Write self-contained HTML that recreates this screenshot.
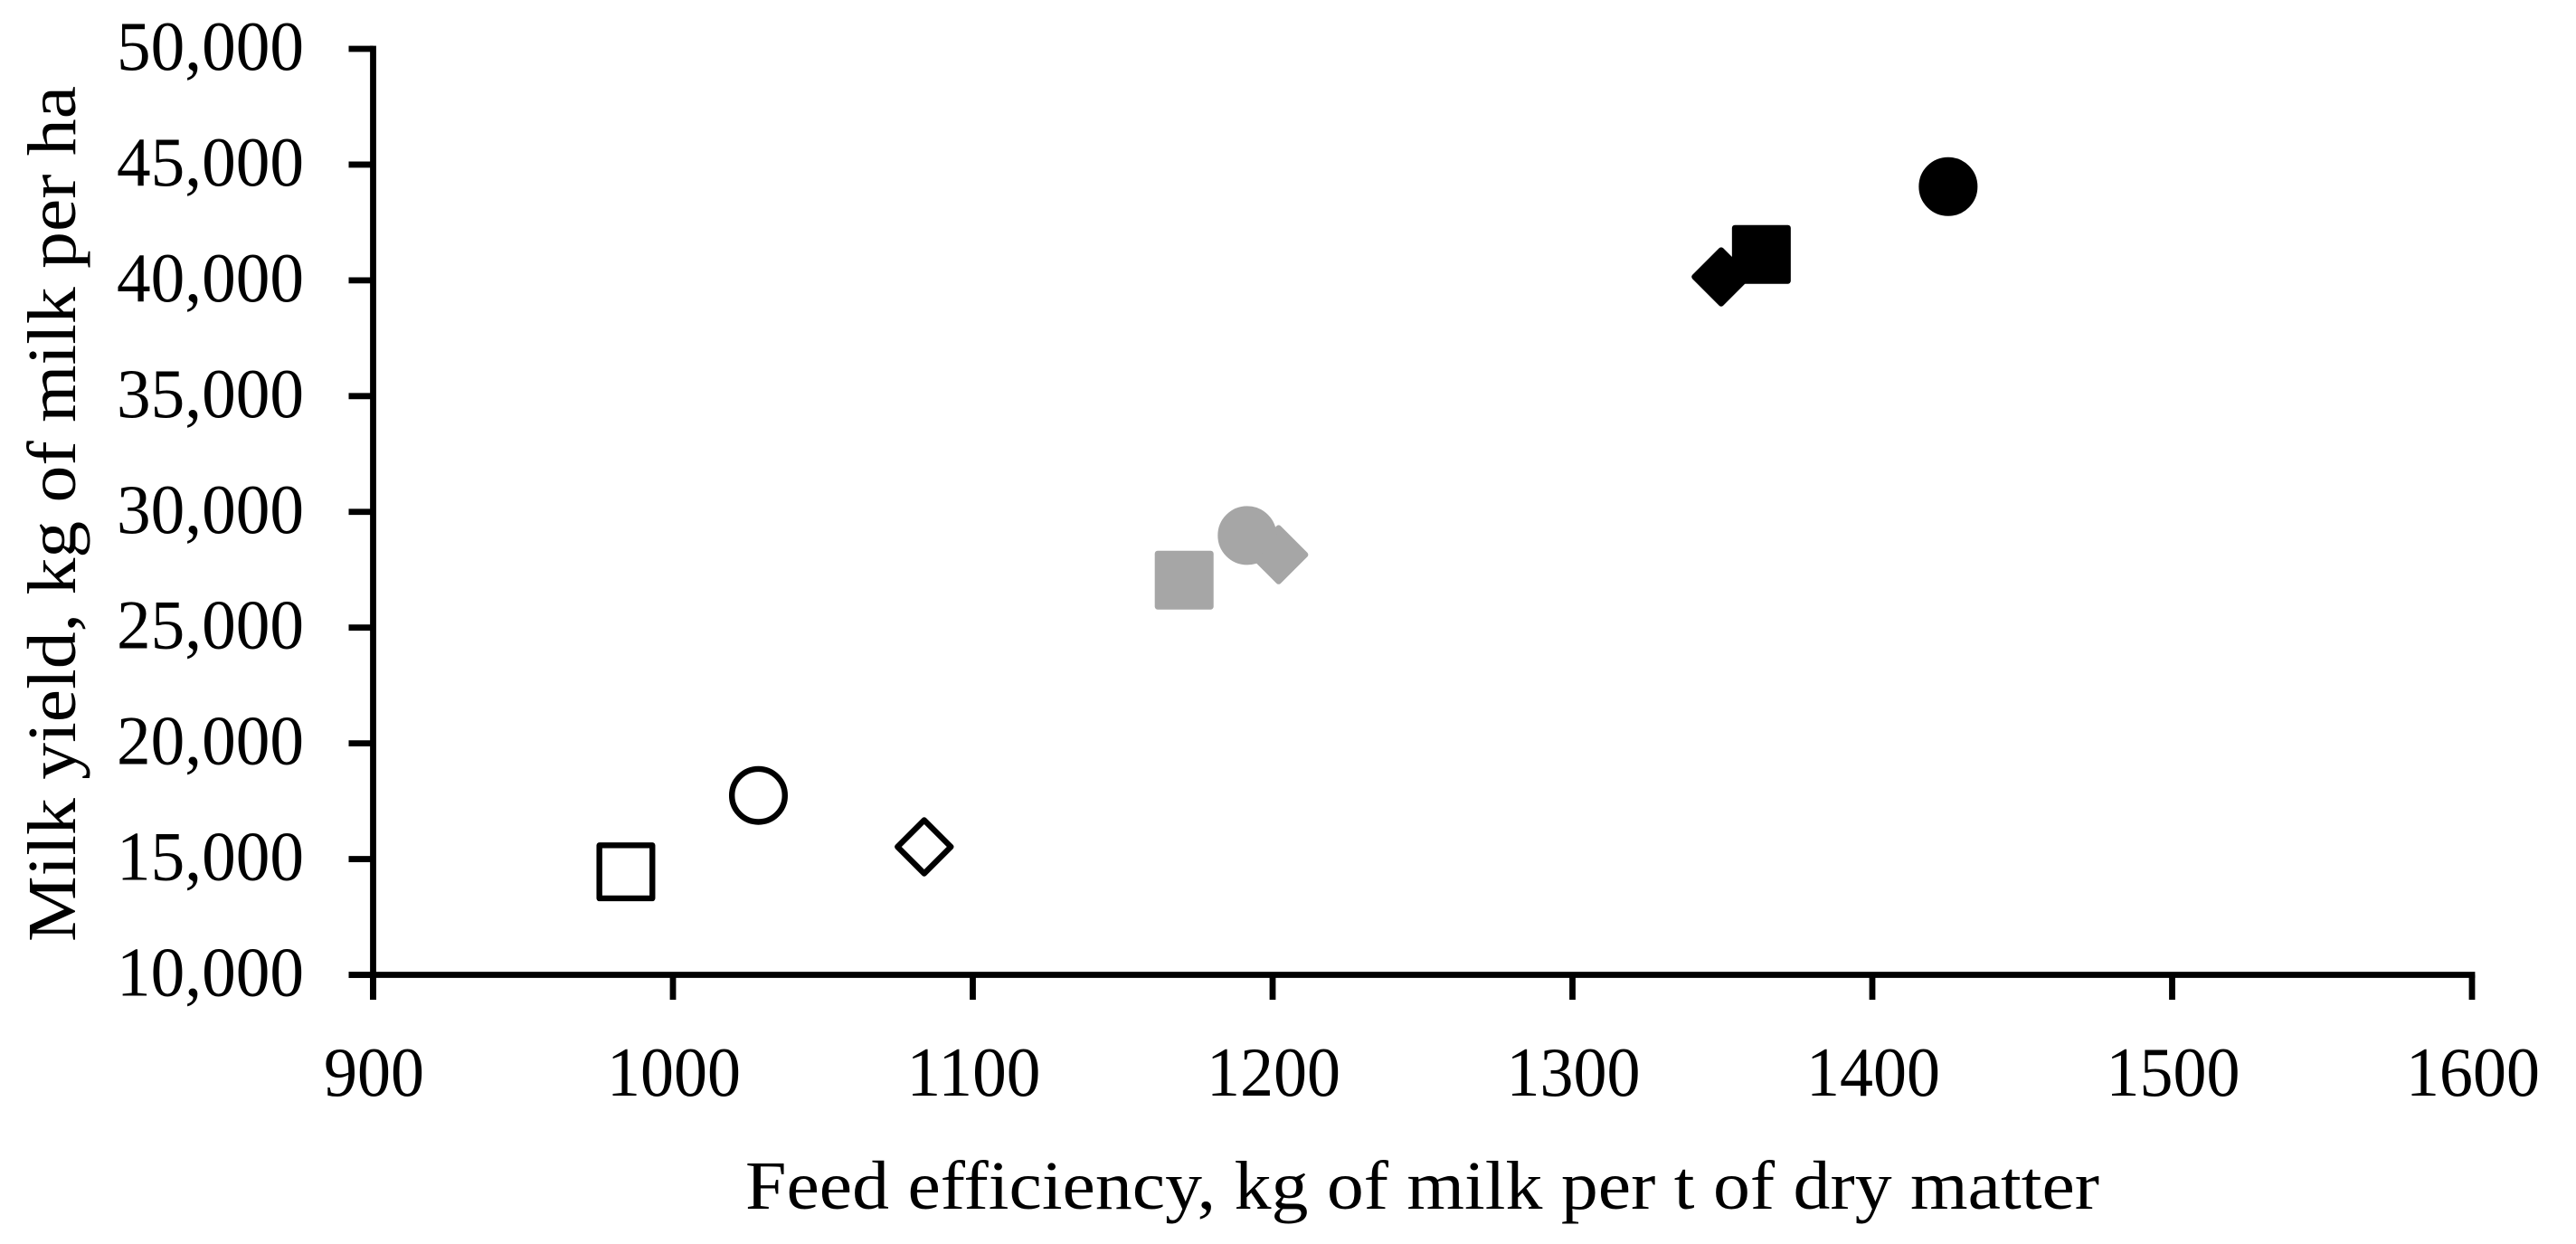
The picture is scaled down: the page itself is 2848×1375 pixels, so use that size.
<!DOCTYPE html>
<html lang="en">
<head>
<meta charset="utf-8">
<title>Milk yield vs feed efficiency</title>
<style>
html,body{margin:0;padding:0;background:#fff;}
svg{display:block;}
text{font-family:"Liberation Serif",serif;fill:#000;}
</style>
</head>
<body>
<svg id="chart" xmlns="http://www.w3.org/2000/svg" width="2848" height="1375" viewBox="0 0 2848 1375">
  <rect x="0" y="0" width="2848" height="1375" fill="#fff"/>
  <g id="axes"></g>
  <g id="marks"></g>
  <text x="824" y="1336" font-size="76" textLength="1497" lengthAdjust="spacingAndGlyphs">Feed efficiency, kg of milk per t of dry matter</text>
  <text transform="translate(83 1041) rotate(-90)" font-size="76" textLength="946" lengthAdjust="spacingAndGlyphs">Milk yield, kg of milk per ha</text>
</svg>
<script>
const xTickValues = [900, 1000, 1100, 1200, 1300, 1400, 1500, 1600];
const yTickValues = [10000, 15000, 20000, 25000, 30000, 35000, 40000, 45000, 50000];
const groupNames = ['low', 'medium', 'high'];
const squareFeedEfficiency = [984.3, 1170.5, 1363];
const squareMilkYield = [14450, 27050, 41120];
const circleFeedEfficiency = [1028.5, 1191.5, 1425.3];
const circleMilkYield = [17750, 28980, 44050];
const diamondFeedEfficiency = [1083.8, 1202, 1349.6];
const diamondMilkYield = [15530, 28150, 40150];

const NS = 'http://www.w3.org/2000/svg';
const plot = { left: 412.5, right: 2733, top: 54, bottom: 1077.5 };
const xMin = xTickValues[0];
const xMax = xTickValues[xTickValues.length - 1];
const yMin = yTickValues[0];
const yMax = yTickValues[yTickValues.length - 1];
const xScale = v => plot.left + (v - xMin) / (xMax - xMin) * (plot.right - plot.left);
const yScale = v => plot.bottom - (v - yMin) / (yMax - yMin) * (plot.bottom - plot.top);
const groupFill = { low: '#ffffff', medium: '#a6a6a6', high: '#000000' };
const groupStroke = { low: '#000000', medium: '#a6a6a6', high: '#000000' };
const axes = document.getElementById('axes');
const marks = document.getElementById('marks');

function drawLine(parent, x1, y1, x2, y2) {
  const l = document.createElementNS(NS, 'line');
  l.setAttribute('x1', x1);
  l.setAttribute('y1', y1);
  l.setAttribute('x2', x2);
  l.setAttribute('y2', y2);
  l.setAttribute('stroke', '#000');
  l.setAttribute('stroke-width', 6.8);
  parent.appendChild(l);
  return l;
}
function drawLabel(parent, str, x, y, anchor, width) {
  const t = document.createElementNS(NS, 'text');
  t.setAttribute('x', x);
  t.setAttribute('y', y);
  t.setAttribute('text-anchor', anchor);
  t.setAttribute('font-size', 77);
  t.setAttribute('textLength', width);
  t.setAttribute('lengthAdjust', 'spacingAndGlyphs');
  t.textContent = str;
  parent.appendChild(t);
  return t;
}

const yAxisLine = drawLine(axes, plot.left, plot.top - 3.4, plot.left, plot.bottom + 27.5);


const xAxisLine = drawLine(axes, plot.left - 27, plot.bottom, plot.right + 3.4, plot.bottom);



yTickValues.forEach(v => {
  const y = yScale(v);
  const tick = drawLine(axes, plot.left - 27, y, plot.left, y);
  
  
  const label = drawLabel(axes, v.toLocaleString('en-US'), 336, y + 23, 'end', 207);
  
  
});
xTickValues.forEach(v => {
  const x = xScale(v);
  const tick = drawLine(axes, x, plot.bottom, x, plot.bottom + 27.5);
  
  
  const text = String(v);
  const label = drawLabel(axes, text, x + 1, 1211, 'middle', text.length * 37);
  
  
});

function styleMark(el, group) {
  el.setAttribute('fill', groupFill[group]);
  el.setAttribute('stroke', groupStroke[group]);
  el.setAttribute('stroke-width', 6.4);
  el.setAttribute('stroke-linejoin', 'round');
  marks.appendChild(el);
}
function drawDiamond(fe, my, group) {
  const cx = xScale(fe), cy = yScale(my), h = 29.5;
  const el = document.createElementNS(NS, 'polygon');
  el.setAttribute('points', [[cx, cy - h], [cx + h, cy], [cx, cy + h], [cx - h, cy]].map(p => p.join(',')).join(' '));
  
  
  styleMark(el, group);
}
function drawCircle(fe, my, group) {
  const el = document.createElementNS(NS, 'circle');
  el.setAttribute('cx', xScale(fe));
  el.setAttribute('cy', yScale(my));
  el.setAttribute('r', 29.3);
  
  
  styleMark(el, group);
}
function drawSquare(fe, my, group) {
  const h = 29.3;
  const el = document.createElementNS(NS, 'rect');
  el.setAttribute('x', xScale(fe) - h);
  el.setAttribute('y', yScale(my) - h);
  el.setAttribute('width', 2 * h);
  el.setAttribute('height', 2 * h);
  
  
  styleMark(el, group);
}
groupNames.forEach((group, i) => {
  drawDiamond(diamondFeedEfficiency[i], diamondMilkYield[i], group);
  drawSquare(squareFeedEfficiency[i], squareMilkYield[i], group);
  drawCircle(circleFeedEfficiency[i], circleMilkYield[i], group);
});
</script>
</body>
</html>
